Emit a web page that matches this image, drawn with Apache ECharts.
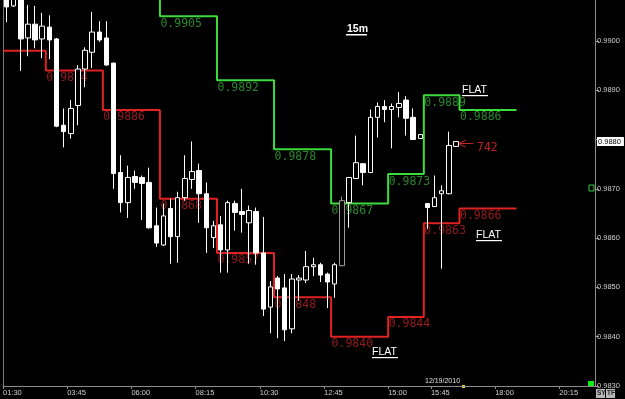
<!DOCTYPE html>
<html><head><meta charset="utf-8">
<script src="https://cdn.jsdelivr.net/npm/echarts@6/dist/echarts.min.js"></script>
<style>html,body{margin:0;padding:0;background:#000;overflow:hidden}#c{width:625px;height:399px}</style>
</head><body><div id="c"></div>
<script>
// ---- data (15m bars) ----
const opens  = [0.99103,0.99071,0.99099,0.99006,0.99034,0.99004,0.99028,0.99004,0.98829,0.98812,
                0.98869,0.98943,0.98977,0.99018,0.99006,0.98955,0.98733,0.98672,0.98725,0.98723,
                0.98713,0.98625,0.98586,0.98660,0.98603,0.98682,0.98719,0.98737,0.98690,0.98601,
                0.98627,0.98576,0.98670,0.98654,0.98631,0.98654,0.98570,0.98460,0.98519,0.98499,
                0.98416,0.98515,0.98515,0.98542,0.98546,0.98527,0.98507,0.98544,0.98672,0.98721,
                0.98751,0.98733,0.98845,0.98867,0.98861,0.98865,0.98880,0.98845,0.98802,0.98670,
                0.98664,0.98690,0.98690,0.98786];
const closes = [0.99069,0.99089,0.99004,0.99034,0.99002,0.99030,0.99002,0.98827,0.98816,0.98863,
                0.98943,0.98981,0.99018,0.99002,0.98951,0.98731,0.98672,0.98723,0.98713,0.98711,
                0.98621,0.98590,0.98645,0.98603,0.98682,0.98721,0.98735,0.98690,0.98621,0.98625,
                0.98576,0.98672,0.98652,0.98648,0.98656,0.98570,0.98456,0.98501,0.98497,0.98414,
                0.98517,0.98519,0.98542,0.98546,0.98525,0.98511,0.98546,0.98676,0.98723,0.98753,
                0.98733,0.98845,0.98867,0.98861,0.98867,0.98873,0.98843,0.98800,0.98810,0.98662,
                0.98682,0.98696,0.98788,0.98796];
const lows   = [0.99038,0.99069,0.98939,0.98969,0.98985,0.98965,0.98963,0.98825,0.98784,0.98802,
                0.98829,0.98906,0.98945,0.98998,0.98950,0.98700,0.98652,0.98641,0.98700,0.98637,
                0.98619,0.98582,0.98584,0.98548,0.98550,0.98676,0.98700,0.98631,0.98570,0.98580,
                0.98530,0.98530,0.98615,0.98611,0.98548,0.98546,0.98442,0.98407,0.98397,0.98391,
                0.98407,0.98473,0.98509,0.98523,0.98511,0.98458,0.98479,0.98543,0.98621,0.98720,
                0.98707,0.98732,0.98804,0.98835,0.98782,0.98845,0.98808,0.98799,0.98801,0.98619,
                0.98663,0.98538,0.98689,0.98785];
const highs  = [0.99107,0.99093,0.99103,0.99073,0.99071,0.99057,0.99052,0.99006,0.98863,0.98880,
                0.98951,0.98987,0.99059,0.99040,0.99040,0.98956,0.98768,0.98747,0.98737,0.98727,
                0.98743,0.98662,0.98670,0.98680,0.98694,0.98768,0.98796,0.98751,0.98713,0.98635,
                0.98645,0.98676,0.98676,0.98700,0.98666,0.98662,0.98643,0.98513,0.98523,0.98527,
                0.98527,0.98525,0.98574,0.98560,0.98550,0.98530,0.98550,0.98684,0.98724,0.98808,
                0.98752,0.98861,0.98875,0.98880,0.98873,0.98896,0.98888,0.98863,0.98811,0.98671,
                0.98727,0.98707,0.98816,0.98797];
const grayBars = [47];
const nSlots = 83;                       // bar slots across the plot (incl. empty future)
const tickIndex  = [0,9,18,27,36,45,54,60,69,78];
const tickLabels = ['01:30','03:45','06:00','08:15','10:30','12:45','15:00','15:45','18:00','20:15'];
const yMin = 0.9830, yMax = 0.99083, yStep = 0.0010;

const redStarts   = [0,6,14,22,30,38,46,54,59,64];
const redEnds     = [6,14,22,30,38,46,54,59,64,72];
const redLevels   = [0.9898,0.9894,0.9886,0.9868,0.9857,0.9848,0.9840,0.9844,0.9863,0.9866];
const greenStarts = [14,22,30,38,46,54,59,64];
const greenEnds   = [22,30,38,46,54,59,64,72];
const greenLevels = [0.9918,0.9905,0.9892,0.9878,0.9867,0.9873,0.9889,0.9886];

// ---- build ----
const categories = Array.from({length:nSlots}, (_, i) => 'b' + i);
const boundaryCats = Array.from({length:nSlots + 1}, () => '');
tickIndex.forEach((k, j) => { boundaryCats[k] = tickLabels[j]; });
const tickSet = new Set(tickIndex);

const candleData = opens.map((o, i) => {
  const v = [o, closes[i], lows[i], highs[i]];
  if (grayBars.includes(i)) return {value: v, itemStyle: {borderColor: '#9a9a9a', borderColor0: '#9a9a9a'}};
  return v;
});
function stepPts(starts, ends, levels) {
  const pts = [];
  starts.forEach((s, j) => { pts.push([s, levels[j]]); pts.push([ends[j], levels[j]]); });
  return pts;
}
function labelPts(starts, levels) {
  return starts.map((s, j) => [s, levels[j]]).filter(p => p[0] > 0 && p[1] <= yMax);
}
const lastClose = closes[closes.length - 1];
const ledFont = 'DejaVu Sans Mono';

const chart = echarts.init(document.getElementById('c'), null, {renderer: 'canvas'});
chart.setOption({
  backgroundColor: '#000',
  animation: false,
  grid: {left: 3, right: 30, top: 0, bottom: 13, containLabel: false, outerBoundsMode: 'none'},
  xAxis: [{
    type: 'category', data: categories, boundaryGap: true,
    axisLine: {show: true, lineStyle: {color: '#8c8c8c'}},
    axisTick: {show: false}, axisLabel: {show: false}, splitLine: {show: false}
  }, {
    type: 'category', data: boundaryCats, boundaryGap: false, position: 'bottom',
    axisLine: {show: false},
    axisTick: {show: true, length: 3, interval: (i) => tickSet.has(i), lineStyle: {color: '#8c8c8c'}},
    axisLabel: {interval: (i) => tickSet.has(i), align: 'left', margin: 3, color: '#cfcfcf',
                fontSize: 7.5, fontFamily: 'Liberation Sans'},
    splitLine: {show: false}
  }],
  yAxis: [{
    type: 'value', position: 'right', min: yMin, max: yMax, interval: yStep,
    axisLine: {show: true, lineStyle: {color: '#8c8c8c'}},
    axisTick: {show: true, length: 4, lineStyle: {color: '#8c8c8c'}},
    axisLabel: {color: '#cfcfcf', fontSize: 7.5, margin: 2, fontFamily: 'Liberation Sans',
                formatter: v => v.toFixed(4), showMaxLabel: false},
    splitLine: {show: false}
  }, {
    type: 'value', position: 'left', min: yMin, max: yMax,
    axisLine: {show: true, lineStyle: {color: '#777'}},
    axisTick: {show: false}, axisLabel: {show: false}, splitLine: {show: false}
  }, {
    type: 'value', position: 'right', offset: 0, min: yMin, max: yMax, z: 10,
    axisLine: {show: false}, axisTick: {show: false}, splitLine: {show: false},
    axisLabel: {customValues: [lastClose], formatter: v => v.toFixed(4), margin: 2,
                backgroundColor: '#ffffff', color: '#000', fontSize: 7.5, padding: [1, 3, 0, 1],
                fontFamily: 'Liberation Sans', showMinLabel: true, showMaxLabel: true}
  }],
  series: [{
    type: 'line', xAxisIndex: 1, yAxisIndex: 0, data: stepPts(greenStarts, greenEnds, greenLevels),
    showSymbol: false, symbol: 'none', clip: true, z: 3,
    lineStyle: {color: '#3ddc3d', width: 2}
  }, {
    type: 'line', xAxisIndex: 1, yAxisIndex: 0, data: stepPts(redStarts, redEnds, redLevels),
    showSymbol: false, symbol: 'none', clip: true, z: 3,
    lineStyle: {color: '#e02222', width: 2}
  }, {
    type: 'scatter', xAxisIndex: 1, yAxisIndex: 0, data: labelPts(greenStarts, greenLevels),
    symbolSize: 1, itemStyle: {color: 'transparent'}, z: 4,
    label: {show: true, position: [1, 2], formatter: p => p.value[1].toFixed(4),
            color: '#34a834', fontSize: 11.5, fontFamily: ledFont}
  }, {
    type: 'scatter', xAxisIndex: 1, yAxisIndex: 0, data: labelPts(redStarts, redLevels),
    symbolSize: 1, itemStyle: {color: 'transparent'}, z: 4,
    label: {show: true, position: [1, 2], formatter: p => p.value[1].toFixed(4),
            color: '#b82222', fontSize: 11.5, fontFamily: ledFont}
  }, {
    type: 'candlestick', xAxisIndex: 0, yAxisIndex: 0, data: candleData, barWidth: 5, clip: true, z: 5,
    itemStyle: {color: '#000', color0: '#fff', borderColor: '#fff', borderColor0: '#fff', borderWidth: 1}
  }],
  graphic: [
    {type: 'text', left: 347, top: 24, style: {text: '15m', fill: '#fff', font: 'bold 10.5px Liberation Sans'}},
    {type: 'rect', shape: {x: 346, y: 34, width: 21, height: 1.5}, style: {fill: '#fff'}},
    {type: 'text', left: 462, top: 85, style: {text: 'FLAT', fill: '#fff', font: '10.5px Liberation Sans'}},
    {type: 'rect', shape: {x: 462, y: 95, width: 26, height: 1.2}, style: {fill: '#fff'}},
    {type: 'text', left: 476, top: 230, style: {text: 'FLAT', fill: '#fff', font: '10.5px Liberation Sans'}},
    {type: 'rect', shape: {x: 476, y: 240, width: 26, height: 1.2}, style: {fill: '#fff'}},
    {type: 'text', left: 372, top: 347, style: {text: 'FLAT', fill: '#fff', font: '10.5px Liberation Sans'}},
    {type: 'rect', shape: {x: 372, y: 357, width: 26, height: 1.2}, style: {fill: '#fff'}},
    {type: 'polyline', shape: {points: [[466, 140], [458, 143.5], [466, 147]]}, style: {stroke: '#c82020', lineWidth: 1, fill: 'none'}},
    {type: 'line', shape: {x1: 458, y1: 143.5, x2: 473, y2: 143.5}, style: {stroke: '#c82020', lineWidth: 1}},
    {type: 'text', left: 477, top: 142, style: {text: '742', fill: '#c02222', font: '11.5px DejaVu Sans Mono'}},
    {type: 'text', left: 425, top: 378, style: {text: '12/19/2010', fill: '#e0e0e0', font: '7px Liberation Sans'}},
    {type: 'rect', shape: {x: 462, y: 385, width: 3, height: 3}, style: {fill: '#e8e040'}},
    {type: 'rect', shape: {x: 588, y: 381, width: 6, height: 5}, style: {fill: '#11ee11'}},
    {type: 'rect', shape: {x: 589, y: 185, width: 5, height: 6}, style: {fill: '#000', stroke: '#33cc33', lineWidth: 1}},
    {type: 'rect', shape: {x: 596, y: 389, width: 9, height: 9}, style: {fill: '#b8b8b8'}},
    {type: 'text', left: 597, top: 390, style: {text: 'SY', fill: '#222', font: 'bold 6.5px Liberation Sans'}},
    {type: 'rect', shape: {x: 606, y: 389, width: 9, height: 9}, style: {fill: '#b8b8b8'}},
    {type: 'text', left: 607, top: 390, style: {text: 'TF', fill: '#222', font: 'bold 6.5px Liberation Sans'}}
  ]
});
</script>
</body></html>
